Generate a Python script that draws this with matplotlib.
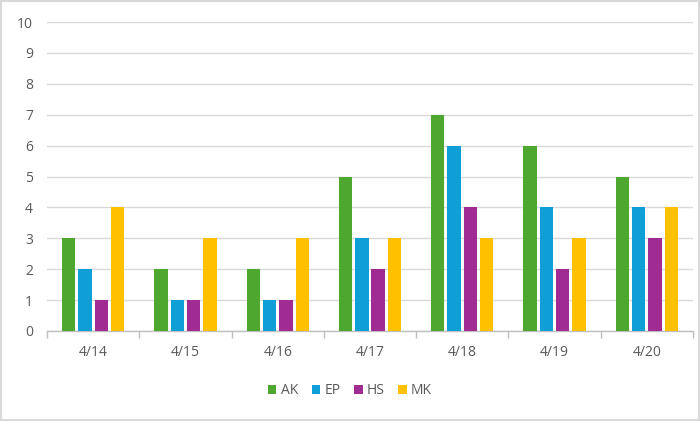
import matplotlib
matplotlib.use("Agg")
import matplotlib.pyplot as plt
import numpy as np
from matplotlib.patches import Rectangle

categories = ["4/14", "4/15", "4/16", "4/17", "4/18", "4/19", "4/20"]
series_names = ["AK", "EP", "HS", "MK"]
AK = [3, 2, 2, 5, 7, 6, 5]
EP = [2, 1, 1, 3, 6, 4, 4]
HS = [1, 1, 1, 2, 4, 2, 3]
MK = [4, 3, 3, 3, 3, 3, 4]
colors = ["#4EA72E", "#0F9ED5", "#A02B93", "#FFC000"]

plt.rcParams['font.family'] = ['Open Sans', 'DejaVu Sans']
fig = plt.figure(figsize=(7, 4.21), dpi=100)
ax = fig.add_axes([47/700, 1-331/421, (693-47)/700, (331-22)/421])

x = np.arange(len(categories))
w = 0.145
step = 0.177
for i, (name, vals) in enumerate(zip(series_names, [AK, EP, HS, MK])):
    ax.bar(x + (i - 1.5) * step, vals, width=w, color=colors[i], label=name, zorder=3)

ax.set_xlim(-0.5, len(categories) - 0.5)
ax.set_ylim(0, 10)
ax.set_yticks(range(0, 11))
ax.grid(axis='y', color='#D9D9D9', linewidth=1, zorder=0)
ax.set_xticks(x)
ax.set_xticklabels(categories)
ax.set_xticks(np.arange(-0.5, len(categories)), minor=True)
ax.tick_params(axis='x', which='major', length=0, pad=10, labelsize=10, colors='#595959')
ax.tick_params(axis='x', which='minor', length=5, color='#BFBFBF', width=1)
ax.tick_params(axis='y', length=0, pad=10, labelsize=10, colors='#595959')
for s in ['top', 'right', 'left']:
    ax.spines[s].set_visible(False)
ax.spines['bottom'].set_color('#BFBFBF')
ax.spines['bottom'].set_linewidth(1)

leg = fig.legend(loc='center', bbox_to_anchor=(0.5, 1-391/421), ncol=4, frameon=False,
                 fontsize=10, handlelength=0.6, handleheight=0.6, handletextpad=0.3,
                 columnspacing=1.0, labelcolor='#595959')

fig.patches.append(Rectangle((0.002, 0.003), 0.996, 0.994, transform=fig.transFigure,
                             fill=False, edgecolor='#D9D9D9', linewidth=1.5))
fig.savefig("out.png", dpi=100)
